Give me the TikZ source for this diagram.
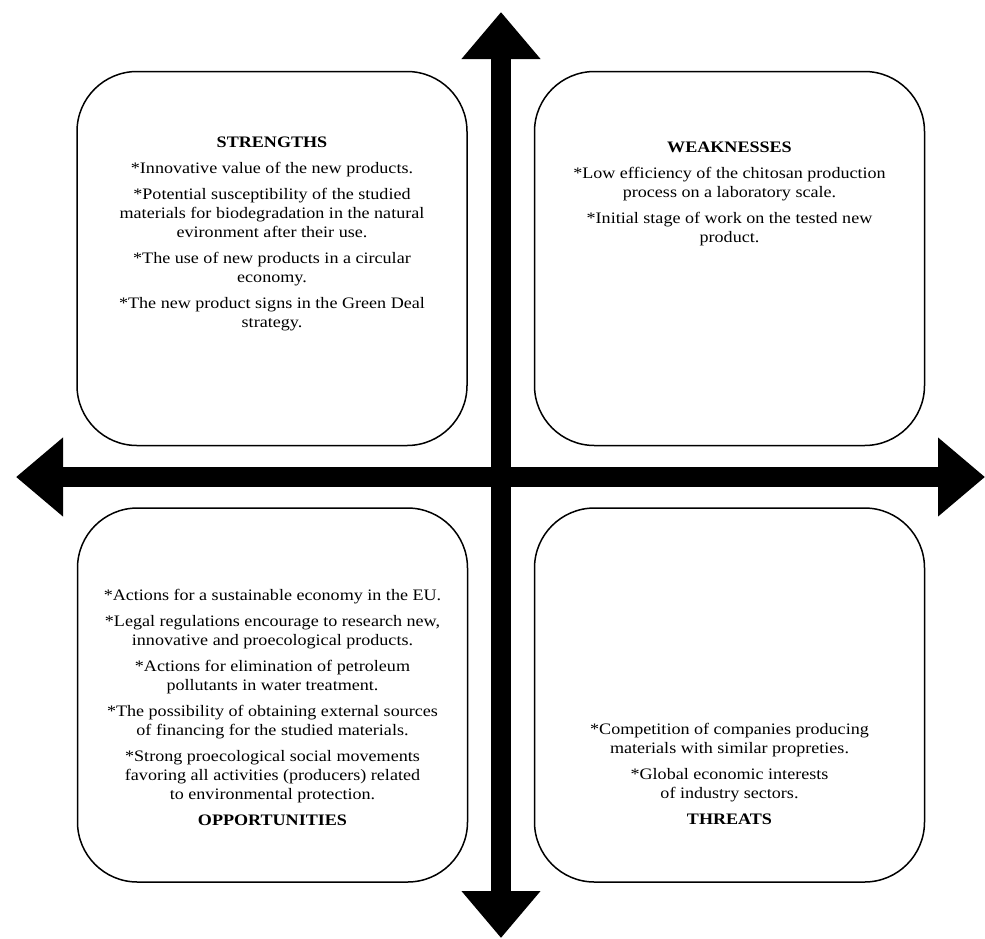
\documentclass[tikz,border=0pt]{standalone}
\usepackage{fontspec}
\setmainfont[FakeStretch=1.13]{Liberation Serif}
\usetikzlibrary{arrows.meta}

\tikzset{
  quadrant/.style={draw, line width=1.5pt, rounded corners=60pt,
    minimum width=390pt, minimum height=374pt, inner sep=0pt},
  swot/.style={align=center, font=\fontsize{16}{19}\selectfont,
    inner sep=0pt, anchor=north},
  axis/.style={line width=20pt,
    {Triangle[width=76pt,length=47pt]}-{Triangle[width=76pt,length=47pt]}}
}

\begin{document}
\begin{tikzpicture}[x=1pt,y=-1pt]
  \useasboundingbox (0,0) rectangle (985,938);
  % the four quadrants
  \node[quadrant] (strengths) at (272,258.5) {};
  \node[quadrant] (weaknesses) at (729.5,258.5) {};
  \node[quadrant] (opportunities) at (272.5,695) {};
  \node[quadrant] (threats) at (729.5,695) {};
  % the axes
  \coordinate (top) at (501,12);
  \coordinate (bottom) at (501,938);
  \coordinate (left) at (16,477);
  \coordinate (right) at (985,477);
  \draw[axis] (top) -- (bottom);
  \draw[axis] (left) -- (right);
  % texts
  \node[swot] (strengthstext) at (272,136.5) {\textbf{STRENGTHS}\\[7pt]
    *Innovative value of the new products.\\[7pt]
    *Potential susceptibility of the studied\\
    materials for biodegradation in the natural\\
    evironment after their use.\\[7pt]
    *The use of new products in a circular\\
    economy.\\[7pt]
    *The new product signs in the Green Deal\\
    strategy.};
  \node[swot] (weaknessestext) at (729.5,142) {\textbf{WEAKNESSES}\\[7pt]
    *Low efficiency of the chitosan production\\
    process on a laboratory scale.\\[7pt]
    *Initial stage of work on the tested new\\
    product.};
  \node[swot] (opportunitiestext) at (272.5,589) {*Actions for a sustainable economy in the EU.\\[7pt]
    *Legal regulations encourage to research new,\\
    innovative and proecological products.\\[7pt]
    *Actions for elimination of petroleum\\
    pollutants in water treatment.\\[7pt]
    *The possibility of obtaining external sources\\
    of financing for the studied materials.\\[7pt]
    *Strong proecological social movements\\
    favoring all activities (producers) related\\
    to environmental protection.\\[7pt]
    \textbf{OPPORTUNITIES}};
  \node[swot] (threatstext) at (729.5,723) {*Competition of companies producing\\
    materials with similar propreties.\\[7pt]
    *Global economic interests\\
    of industry sectors.\\[7pt]
    \textbf{THREATS}};
\end{tikzpicture}
\end{document}
